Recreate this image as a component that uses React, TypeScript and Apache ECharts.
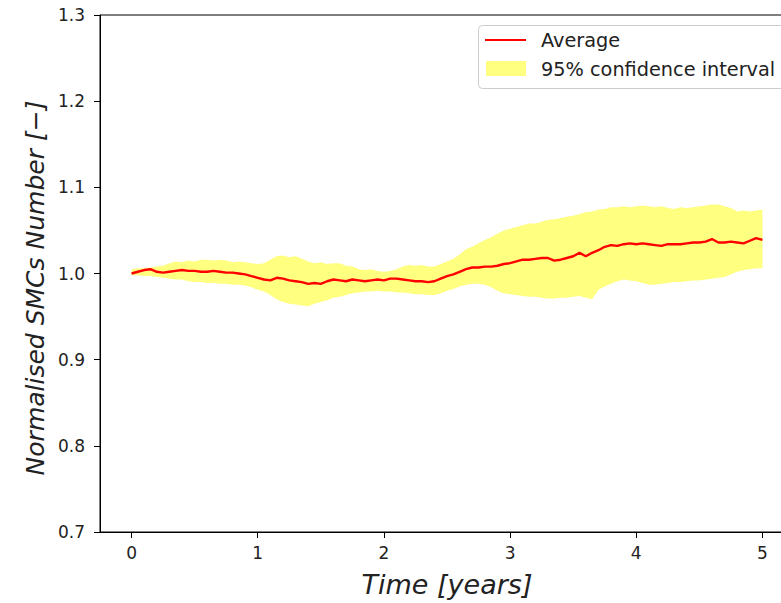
import React, { useEffect, useRef } from "react";
import * as echarts from "echarts";

const TIME = [
  0.0, 0.05, 0.1, 0.15, 0.2, 0.25, 0.3, 0.35, 0.4, 0.45,
  0.5, 0.55, 0.6, 0.65, 0.7, 0.75, 0.8, 0.85, 0.9, 0.95,
  1.0, 1.05, 1.1, 1.15, 1.2, 1.25, 1.3, 1.35, 1.4, 1.45,
  1.5, 1.55, 1.6, 1.65, 1.7, 1.75, 1.8, 1.85, 1.9, 1.95,
  2.0, 2.05, 2.1, 2.15, 2.2, 2.25, 2.3, 2.35, 2.4, 2.45,
  2.5, 2.55, 2.6, 2.65, 2.7, 2.75, 2.8, 2.85, 2.9, 2.95,
  3.0, 3.05, 3.1, 3.15, 3.2, 3.25, 3.3, 3.35, 3.4, 3.45,
  3.5, 3.55, 3.6, 3.65, 3.7, 3.75, 3.8, 3.85, 3.9, 3.95,
  4.0, 4.05, 4.1, 4.15, 4.2, 4.25, 4.3, 4.35, 4.4, 4.45,
  4.5, 4.55, 4.6, 4.65, 4.7, 4.75, 4.8, 4.85, 4.9, 4.95,
  5.0,
];

const AVERAGE = [
  1.0, 1.002, 1.004, 1.005, 1.002, 1.001, 1.002, 1.003, 1.004, 1.003,
  1.003, 1.002, 1.002, 1.003, 1.002, 1.001, 1.001, 1.0, 0.999, 0.997,
  0.995, 0.993, 0.992, 0.995, 0.994, 0.992, 0.991, 0.99, 0.988, 0.989,
  0.988, 0.991, 0.993, 0.992, 0.991, 0.993, 0.992, 0.991, 0.992, 0.993,
  0.992, 0.994, 0.994, 0.993, 0.992, 0.991, 0.991, 0.99, 0.991, 0.994,
  0.997, 0.999, 1.002, 1.005, 1.007, 1.007, 1.008, 1.008, 1.009, 1.011,
  1.012, 1.014, 1.016, 1.016, 1.017, 1.018, 1.018, 1.015, 1.016, 1.018,
  1.02, 1.024, 1.02, 1.024, 1.027, 1.031, 1.033, 1.032, 1.034, 1.035,
  1.034, 1.035, 1.034, 1.033, 1.032, 1.034, 1.034, 1.034, 1.035, 1.036,
  1.036, 1.037, 1.04, 1.036, 1.036, 1.037, 1.036, 1.035, 1.038, 1.041,
  1.039,
];

const UPPER = [
  1.005, 1.006, 1.006, 1.007, 1.008, 1.009, 1.012, 1.014, 1.013, 1.015,
  1.014, 1.016, 1.016, 1.015, 1.016, 1.015, 1.013, 1.014, 1.013, 1.012,
  1.011, 1.012, 1.016, 1.02, 1.021, 1.019, 1.02, 1.017, 1.014, 1.012,
  1.013, 1.011, 1.012, 1.012, 1.009, 1.008, 1.005, 1.004, 1.005, 1.003,
  1.002, 1.003, 1.005, 1.008, 1.01, 1.009, 1.01, 1.008, 1.008, 1.011,
  1.014, 1.017, 1.022, 1.028, 1.031, 1.035, 1.039, 1.042, 1.046, 1.05,
  1.052, 1.054, 1.056, 1.058, 1.058, 1.06, 1.062, 1.063, 1.064, 1.066,
  1.067, 1.069, 1.071, 1.072, 1.074, 1.075, 1.077, 1.077, 1.078, 1.077,
  1.078, 1.079, 1.078, 1.077, 1.078, 1.076, 1.075, 1.077, 1.076, 1.077,
  1.078, 1.079, 1.08, 1.08, 1.078, 1.076, 1.072, 1.073, 1.072, 1.073,
  1.074,
];

const LOWER = [
  0.998, 0.998, 0.997, 0.997, 0.996, 0.995, 0.994, 0.993, 0.993, 0.991,
  0.99, 0.99, 0.989, 0.989, 0.988, 0.988, 0.987, 0.987, 0.986, 0.984,
  0.981, 0.979, 0.975, 0.97, 0.967, 0.965, 0.964, 0.963, 0.962, 0.965,
  0.967, 0.969, 0.972, 0.973, 0.975, 0.977, 0.978, 0.979, 0.979, 0.98,
  0.979, 0.979, 0.978, 0.978, 0.977, 0.976, 0.976, 0.975, 0.975, 0.977,
  0.98, 0.982, 0.985, 0.987, 0.988, 0.988, 0.987, 0.984, 0.98, 0.977,
  0.976, 0.975, 0.974, 0.973, 0.973, 0.972, 0.971, 0.971, 0.972, 0.972,
  0.973, 0.974, 0.972, 0.97, 0.981, 0.985, 0.988, 0.991, 0.993, 0.992,
  0.991, 0.989, 0.987, 0.987, 0.988, 0.989, 0.99, 0.99, 0.991, 0.992,
  0.992, 0.993, 0.994, 0.995, 0.996, 0.999, 1.002, 1.004, 1.005, 1.006,
  1.006,
];

const X_TICKS = [0, 1, 2, 3, 4, 5];
const LEGEND_LABELS = ["Average", "95% confidence interval"];
const X_TITLE = "Time [years]";
const Y_TITLE = "Normalised SMCs Number [\u2212]";

const FONT = "DejaVu Sans";
const TEXT = "#222";

export default function App() {
  const ref = useRef<HTMLDivElement>(null);

  useEffect(() => {
    if (!ref.current) return;
    const chart = echarts.init(ref.current, null, { renderer: "svg" });

    const avgData = TIME.map((t, i) => [t, AVERAGE[i]]);

    chart.setOption({
      animation: false,
      backgroundColor: "#fff",
      textStyle: { fontFamily: FONT },
      grid: {
        left: 100,
        top: 15,
        bottom: 71,
        right: 0,
        show: true,
        borderColor: "#000",
        borderWidth: 1,
        backgroundColor: "transparent",
      },
      xAxis: {
        type: "value",
        min: -0.25,
        max: 5.25,
        splitLine: { show: false },
        axisLine: { show: true, onZero: false, lineStyle: { color: "#000", width: 1 } },
        axisTick: {
          show: true,
          length: 6,
          customValues: X_TICKS,
          lineStyle: { color: "#000" },
        },
        axisLabel: {
          customValues: X_TICKS,
          formatter: (v: number) => String(v),
          color: TEXT,
          fontSize: 17,
          fontFamily: FONT,
          margin: 12,
        },
      },
      yAxis: {
        type: "value",
        min: 0.7,
        max: 1.3,
        interval: 0.1,
        splitLine: { show: false },
        axisLine: { show: true, onZero: false, lineStyle: { color: "#000", width: 1 } },
        axisTick: { show: true, length: 6, lineStyle: { color: "#000" } },
        axisLabel: {
          formatter: (v: number) => v.toFixed(1),
          color: TEXT,
          fontSize: 17,
          fontFamily: FONT,
          margin: 15,
        },
      },
      series: [
        {
          name: LEGEND_LABELS[1],
          type: "custom",
          data: [[0]],
          silent: true,
          z: 1,
          renderItem: (_params: any, api: any) => {
            const pts: number[][] = [];
            for (let i = 0; i < TIME.length; i++) {
              pts.push(api.coord([TIME[i], UPPER[i]]));
            }
            for (let i = TIME.length - 1; i >= 0; i--) {
              pts.push(api.coord([TIME[i], LOWER[i]]));
            }
            return {
              type: "polygon",
              shape: { points: pts },
              style: { fill: "#ffff80", stroke: "none" },
            };
          },
        },
        {
          name: LEGEND_LABELS[0],
          type: "line",
          data: avgData,
          symbol: "none",
          lineStyle: { color: "#ff0000", width: 2.4 },
          z: 3,
        },
      ],
      graphic: [
        {
          type: "text",
          x: 447,
          y: 584,
          style: {
            text: X_TITLE,
            fontSize: 27,
            fontStyle: "italic",
            fontFamily: FONT,
            fill: TEXT,
            align: "center",
            verticalAlign: "middle",
          },
        },
        {
          type: "text",
          x: 35,
          y: 288,
          rotation: Math.PI / 2,
          style: {
            text: Y_TITLE,
            fontSize: 25,
            fontStyle: "italic",
            fontFamily: FONT,
            fill: TEXT,
            align: "center",
            verticalAlign: "middle",
          },
        },
        {
          type: "rect",
          z: 100,
          shape: { x: 478.5, y: 25.5, width: 330, height: 63, r: 4 },
          style: { fill: "rgba(255,255,255,0.85)", stroke: "#cccccc", lineWidth: 1 },
        },
        {
          type: "line",
          z: 101,
          shape: { x1: 485, y1: 40, x2: 526, y2: 40 },
          style: { stroke: "#ff0000", lineWidth: 2.2 },
        },
        {
          type: "rect",
          z: 101,
          shape: { x: 486, y: 61, width: 40, height: 15 },
          style: { fill: "#ffff80" },
        },
        {
          type: "text",
          z: 101,
          x: 541,
          y: 40,
          style: {
            text: LEGEND_LABELS[0],
            fontSize: 19.3,
            fontFamily: FONT,
            fill: TEXT,
            verticalAlign: "middle",
          },
        },
        {
          type: "text",
          z: 101,
          x: 541,
          y: 69,
          style: {
            text: LEGEND_LABELS[1],
            fontSize: 19.3,
            fontFamily: FONT,
            fill: TEXT,
            verticalAlign: "middle",
          },
        },
      ],
    });

    return () => chart.dispose();
  }, []);

  return (
    <div
      style={{
        position: "absolute",
        left: 0,
        top: 0,
        width: 781,
        height: 603,
        overflow: "hidden",
        background: "#fff",
      }}
    >
      <div ref={ref} style={{ width: 794, height: 603 }} />
    </div>
  );
}
